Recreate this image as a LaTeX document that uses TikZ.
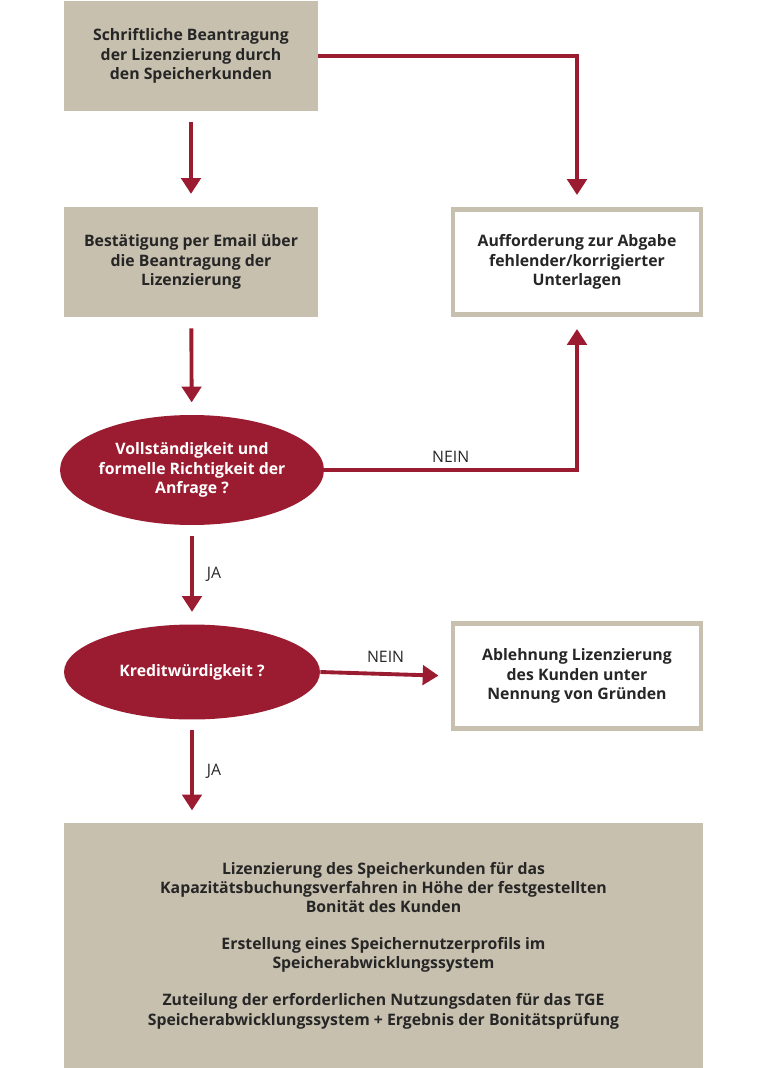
\documentclass[tikz,border=0pt]{standalone}
\usepackage{fontspec}
\setmainfont{Open Sans}
\usetikzlibrary{shapes.geometric, arrows.meta, positioning}
\definecolor{tgetan}{HTML}{C8C0AE}
\definecolor{tgered}{HTML}{9B1B30}

\begin{document}
\begin{tikzpicture}[x=0.02cm, y=-0.02cm,
    stepbox/.style={rectangle, fill=tgetan, minimum width=5.08cm, minimum height=2.22cm, align=center, font=\bfseries\small, text=black!85},
    notebox/.style={rectangle, draw=tgetan, line width=2.5pt, fill=white, minimum width=4.96cm, minimum height=2.1cm, align=center, font=\bfseries\small, text=black!85},
    decision/.style={ellipse, fill=tgered, minimum width=5.12cm, minimum height=2.1cm, inner sep=0pt, align=center, font=\bfseries\small, text=white},
    arrow/.style={-{Triangle[length=9pt, width=11pt]}, draw=tgered, line width=2.2pt},
    label/.style={font=\small, text=black!85}
]
\useasboundingbox (0,0) rectangle (768,1068);

% left column
\node[stepbox] (antrag) at (191,56) {Schriftliche Beantragung\\der Lizenzierung durch\\den Speicherkunden};
\node[stepbox] (email) at (191,262) {Bestätigung per Email über\\die Beantragung der\\Lizenzierung};
\node[decision, minimum height=2.2cm] (vollst) at (192,470) {Vollständigkeit und\\formelle Richtigkeit der\\Anfrage ?};
\node[decision, minimum height=1.9cm] (kredit) at (192,672) {Kreditwürdigkeit ?};
\node[stepbox, minimum width=12.78cm, minimum height=4.9cm] (lizenz) at (383.5,945.5) {Lizenzierung des Speicherkunden für das\\Kapazitätsbuchungsverfahren in Höhe der festgestellten\\Bonität des Kunden\\[1.1em]Erstellung eines Speichernutzerprofils im\\Speicherabwicklungssystem\\[1.1em]Zuteilung der erforderlichen Nutzungsdaten für das TGE\\Speicherabwicklungssystem + Ergebnis der Bonitätsprüfung};

% right column
\node[notebox] (auff) at (577,262) {Aufforderung zur Abgabe\\fehlender/korrigierter\\Unterlagen};
\node[notebox] (ablehn) at (577,676) {Ablehnung Lizenzierung\\des Kunden unter\\Nennung von Gründen};

% Connections
\draw[arrow, shorten <=6pt, shorten >=7pt] (antrag) -- (email);
\draw[arrow, shorten >=7pt] (antrag.east) -| (auff.north);
\draw[arrow, shorten <=6pt, shorten >=7pt] (email) -- (vollst);
\draw[arrow, shorten >=7pt] (vollst.east) -| (auff.south) node[label, pos=0.25, above] {NEIN};
\draw[arrow, shorten <=6pt, shorten >=7pt] (vollst) -- (kredit) node[label, midway, right=4pt] {JA};
\draw[arrow, shorten >=7pt] (kredit.east) -- (ablehn.west) node[label, midway, above=2pt] {NEIN};
\draw[arrow, shorten <=6pt, shorten >=7pt] (kredit) -- (kredit|-lizenz.north) node[label, midway, right=4pt] {JA};

\end{tikzpicture}
\end{document}
